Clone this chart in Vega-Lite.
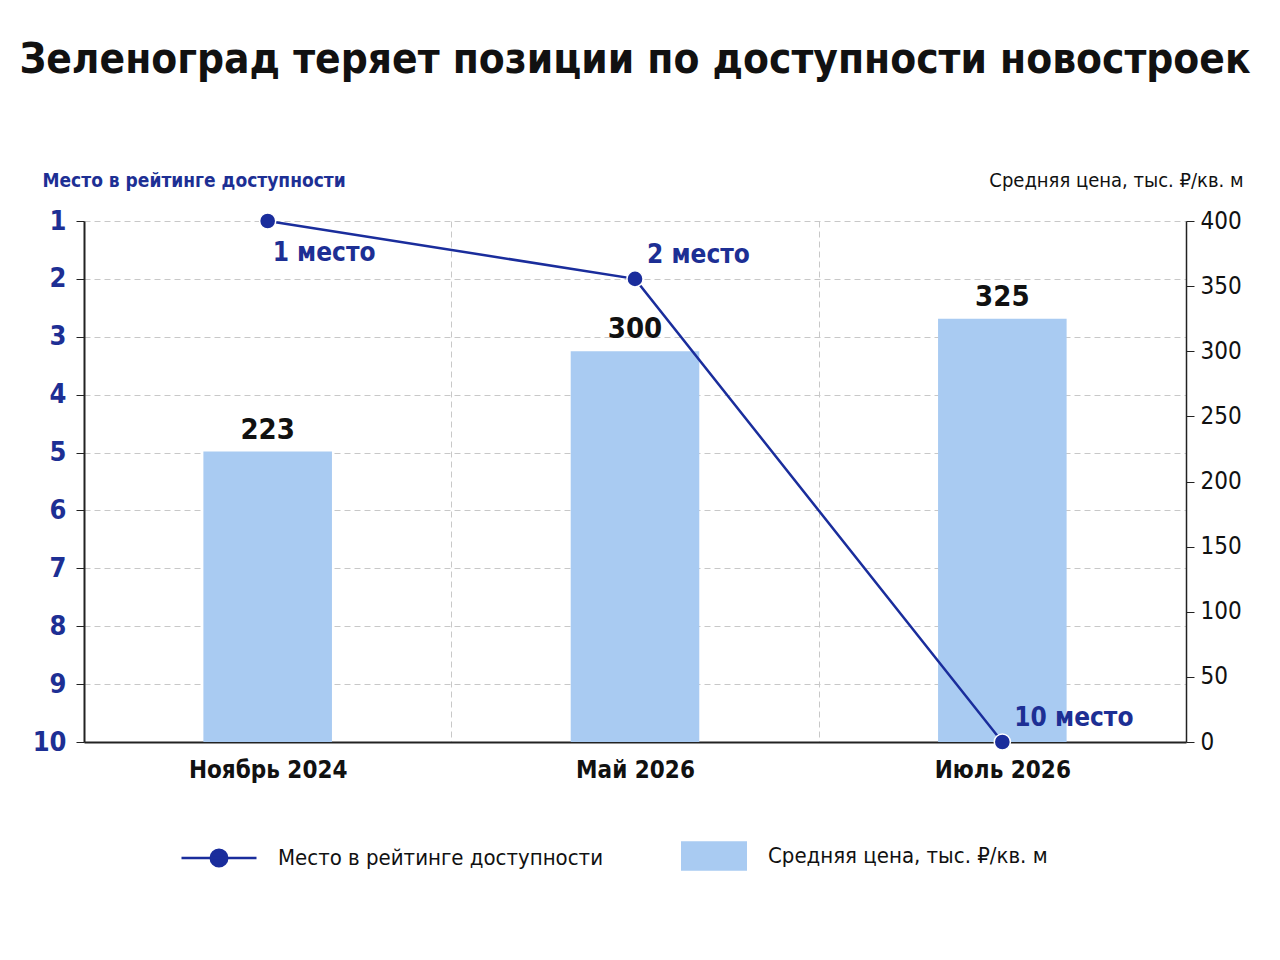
{
  "$schema": "https://vega.github.io/schema/vega-lite/v6.json",
  "width": 1102,
  "height": 521,
  "autosize": {"type": "none"},
  "padding": {"left": 84, "top": 221, "right": 94, "bottom": 218},
  "background": "white",
  "title": {
    "text": "Зеленоград теряет позиции по доступности новостроек",
    "font": "DejaVu Sans Condensed, sans-serif",
    "fontSize": 42,
    "fontWeight": "bold",
    "color": "#111111",
    "anchor": "middle",
    "offset": 88
  },
  "config": {
    "view": {"stroke": null},
    "font": "DejaVu Sans Condensed, sans-serif"
  },
  "data": {
    "values": [
      {"period": "Ноябрь 2024", "rank": 1, "price": 223, "rankLabel": "1 место", "pos": "below", "priceSeries": "Средняя цена, тыс. ₽/кв. м", "rankSeries": "Место в рейтинге доступности"},
      {"period": "Май 2026", "rank": 2, "price": 300, "rankLabel": "2 место", "pos": "above", "priceSeries": "Средняя цена, тыс. ₽/кв. м", "rankSeries": "Место в рейтинге доступности"},
      {"period": "Июль 2026", "rank": 10, "price": 325, "rankLabel": "10 место", "pos": "above", "priceSeries": "Средняя цена, тыс. ₽/кв. м", "rankSeries": "Место в рейтинге доступности"}
    ]
  },
  "encoding": {
    "x": {
      "field": "period",
      "type": "nominal",
      "sort": null,
      "scale": {"paddingInner": 0, "paddingOuter": 0},
      "axis": {
        "title": null,
        "labelAngle": 0,
        "labelFont": "DejaVu Sans Condensed, sans-serif",
        "labelFontSize": 24,
        "labelFontWeight": "bold",
        "labelColor": "#111111",
        "labelPadding": 16,
        "ticks": false,
        "tickBand": "extent",
        "grid": true,
        "gridDash": [6, 4],
        "gridColor": "#c8c8c8",
        "gridWidth": 1,
        "domainColor": "#222222",
        "domainWidth": 2
      }
    }
  },
  "layer": [
    {
      "encoding": {
        "y": {
          "field": "price",
          "type": "quantitative",
          "scale": {"domain": [0, 400], "nice": false},
          "axis": {
            "orient": "right",
            "title": "Средняя цена, тыс. ₽/кв. м",
            "titleAngle": 0,
            "titleAlign": "right",
            "titleBaseline": "middle",
            "titleX": 57,
            "titleY": -41,
            "titleFont": "DejaVu Sans Condensed, sans-serif",
            "titleFontSize": 20,
            "titleFontWeight": "normal",
            "titleColor": "#111111",
            "values": [0, 50, 100, 150, 200, 250, 300, 350, 400],
            "grid": false,
            "labelFont": "DejaVu Sans Condensed, sans-serif",
            "labelFontSize": 24,
            "labelColor": "#111111",
            "labelPadding": 6,
            "tickSize": 8,
            "tickColor": "#222222",
            "domainColor": "#222222",
            "domainWidth": 1.5
          }
        }
      },
      "layer": [
        {
          "mark": {"type": "bar", "width": {"band": 0.35}},
          "encoding": {
            "fill": {
              "field": "priceSeries",
              "type": "nominal",
              "scale": {"range": ["#a9cbf2"]},
              "legend": {
                "orient": "none",
                "legendX": 597,
                "legendY": 602,
                "title": null,
                "padding": 0,
                "symbolType": "M-1,-0.45H1V0.45H-1Z",
                "symbolSize": 4356,
                "symbolStrokeWidth": 0,
                "labelFont": "DejaVu Sans Condensed, sans-serif",
                "labelFontSize": 22,
                "labelColor": "#111111",
                "labelOffset": 21,
                "labelLimit": 400
              }
            }
          }
        },
        {
          "mark": {"type": "text", "baseline": "bottom", "dy": -7, "fontSize": 29, "fontWeight": "bold", "color": "#111111", "font": "DejaVu Sans Condensed, sans-serif"},
          "encoding": {"text": {"field": "price", "type": "quantitative"}}
        }
      ]
    },
    {
      "encoding": {
        "y": {
          "field": "rank",
          "type": "quantitative",
          "scale": {"domain": [1, 10], "reverse": true, "nice": false, "zero": false},
          "axis": {
            "orient": "left",
            "title": "Место в рейтинге доступности",
            "titleAngle": 0,
            "titleAlign": "left",
            "titleBaseline": "middle",
            "titleX": -42,
            "titleY": -41,
            "titleFont": "DejaVu Sans Condensed, sans-serif",
            "titleFontSize": 19,
            "titleFontWeight": "bold",
            "titleColor": "#1d2f94",
            "values": [1, 2, 3, 4, 5, 6, 7, 8, 9, 10],
            "grid": true,
            "gridDash": [6, 4],
            "gridColor": "#c8c8c8",
            "gridWidth": 1,
            "labelFont": "DejaVu Sans Condensed, sans-serif",
            "labelFontSize": 27,
            "labelFontWeight": "bold",
            "labelColor": "#1d2f94",
            "labelPadding": 10,
            "tickSize": 8,
            "tickColor": "#222222",
            "domainColor": "#222222",
            "domainWidth": 2
          }
        }
      },
      "layer": [
        {
          "mark": {"type": "line", "strokeWidth": 2.5},
          "encoding": {
            "stroke": {
              "field": "rankSeries",
              "type": "nominal",
              "scale": {"range": ["#1a2d9c"]},
              "legend": {
                "orient": "none",
                "legendX": 96,
                "legendY": 598,
                "title": null,
                "padding": 0,
                "symbolType": "M-1,0H1M0.22,0A0.22,0.22,0,1,1,-0.22,0A0.22,0.22,0,1,1,0.22,0Z",
                "symbolSize": 5625,
                "symbolStrokeWidth": 2.5,
                "symbolFillColor": "#1a2d9c",
                "labelFont": "DejaVu Sans Condensed, sans-serif",
                "labelFontSize": 22,
                "labelColor": "#111111",
                "labelOffset": 20,
                "labelLimit": 400
              }
            }
          }
        },
        {
          "mark": {"type": "point", "filled": true, "size": 260, "color": "#1a2d9c", "stroke": "white", "strokeWidth": 1.5, "opacity": 1}
        },
        {
          "transform": [{"filter": "datum.pos === 'below'"}],
          "mark": {"type": "text", "align": "left", "baseline": "middle", "dx": 5, "dy": 32, "fontSize": 26, "fontWeight": "bold", "color": "#1d2f94", "font": "DejaVu Sans Condensed, sans-serif"},
          "encoding": {"text": {"field": "rankLabel", "type": "nominal"}}
        },
        {
          "transform": [{"filter": "datum.pos === 'above'"}],
          "mark": {"type": "text", "align": "left", "baseline": "middle", "dx": 12, "dy": -24, "fontSize": 26, "fontWeight": "bold", "color": "#1d2f94", "font": "DejaVu Sans Condensed, sans-serif"},
          "encoding": {"text": {"field": "rankLabel", "type": "nominal"}}
        }
      ]
    }
  ],
  "resolve": {"scale": {"y": "independent"}}
}
